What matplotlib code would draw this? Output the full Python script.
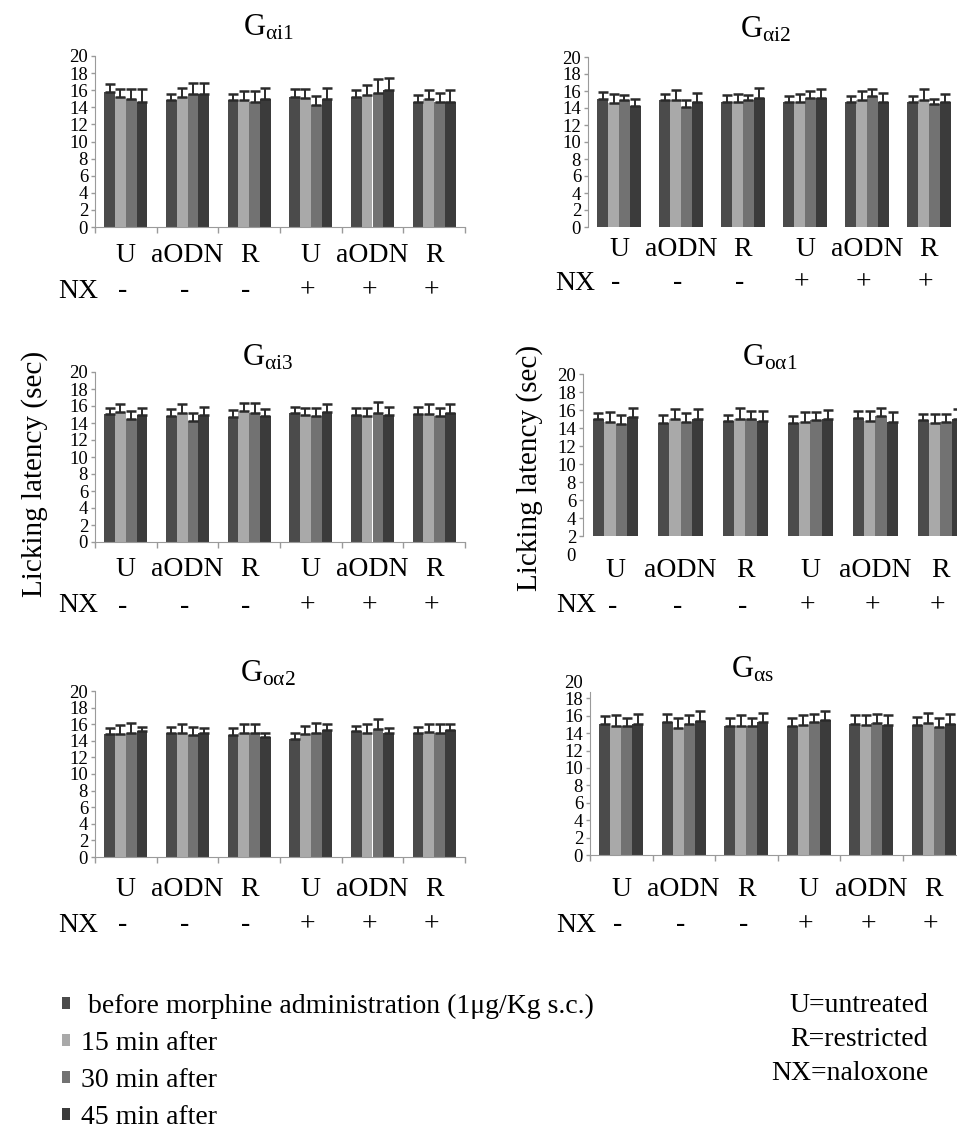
import matplotlib
matplotlib.use("Agg")
import matplotlib.pyplot as plt
import numpy as np

# ---------------- data ----------------
categories = ["U", "aODN", "R", "U", "aODN", "R"]
nx_signs = ["-", "-", "-", "+", "+", "+"]
series_labels = [" before morphine administration (1\u03bcg/Kg s.c.)",
                 "15 min after", "30 min after", "45 min after"]
legend_notes = ["U=untreated", "R=restricted", "NX=naloxone"]
ylabel = "Licking latency (sec)"
yticks = list(range(0, 21, 2))

gai1_mean = [[15.8, 14.8, 14.8, 15.2, 15.2, 14.6],
             [15.2, 15.2, 14.8, 15.1, 15.4, 15.0],
             [15.0, 15.5, 14.6, 14.3, 15.7, 14.6],
             [14.6, 15.5, 15.0, 15.0, 16.0, 14.6]]
gai1_err = [[0.9, 0.7, 0.7, 0.9, 0.8, 0.8],
            [0.9, 1.0, 1.1, 1.0, 1.2, 1.0],
            [1.1, 1.4, 1.3, 1.0, 1.6, 1.1],
            [1.5, 1.4, 1.3, 1.3, 1.4, 1.4]]

gai2_mean = [[15.1, 14.9, 14.7, 14.7, 14.7, 14.7],
             [14.6, 15.0, 14.7, 14.7, 15.0, 15.0],
             [15.0, 14.1, 14.9, 15.2, 15.4, 14.5],
             [14.2, 14.7, 15.2, 15.2, 14.7, 14.7]]
gai2_err = [[0.8, 0.7, 0.8, 0.7, 0.7, 0.7],
            [1.0, 1.1, 0.9, 0.9, 1.0, 1.2],
            [0.5, 0.8, 0.6, 0.8, 0.8, 0.6],
            [0.9, 1.1, 1.1, 1.0, 1.1, 0.9]]

gai3_mean = [[15.1, 14.8, 14.7, 15.2, 15.0, 15.1],
             [15.3, 15.2, 15.4, 14.9, 14.8, 15.1],
             [14.5, 14.2, 15.2, 14.8, 15.2, 14.8],
             [14.9, 15.0, 14.8, 15.3, 15.0, 15.2]]
gai3_err = [[0.7, 0.9, 0.8, 0.7, 0.8, 0.8],
            [0.9, 1.0, 1.0, 0.9, 1.0, 1.1],
            [0.9, 1.0, 1.2, 1.0, 1.3, 1.0],
            [0.9, 0.9, 0.9, 0.9, 0.9, 1.0]]

goa1_mean = [[15.0, 14.6, 14.8, 14.6, 15.1, 14.9],
             [14.7, 15.0, 15.0, 14.7, 14.8, 14.6],
             [14.5, 14.7, 15.0, 14.9, 15.3, 14.7],
             [15.2, 15.0, 14.8, 15.0, 14.7, 15.0]]
goa1_err = [[0.7, 0.8, 0.7, 0.7, 0.8, 0.7],
            [1.1, 1.1, 1.2, 1.1, 1.1, 1.0],
            [1.0, 1.0, 0.9, 0.9, 0.9, 0.9],
            [1.0, 1.1, 1.1, 1.0, 1.1, 1.1]]

goa2_mean = [[14.8, 14.9, 14.7, 14.2, 15.2, 15.0],
             [14.8, 15.0, 15.0, 14.8, 15.0, 15.1],
             [15.0, 14.7, 14.9, 15.0, 15.4, 14.9],
             [15.2, 14.9, 14.4, 15.3, 15.0, 15.3]]
goa2_err = [[0.7, 0.8, 0.9, 0.7, 0.6, 0.7],
            [1.1, 1.0, 1.0, 1.0, 1.0, 0.9],
            [1.1, 1.0, 1.1, 1.1, 1.2, 1.1],
            [0.5, 0.6, 0.5, 0.7, 0.6, 0.7]]

gas_mean = [[15.1, 15.3, 14.8, 14.8, 15.1, 15.0],
            [14.8, 14.6, 14.8, 14.9, 14.9, 15.2],
            [14.8, 15.1, 14.8, 15.3, 15.2, 14.7],
            [15.1, 15.4, 15.3, 15.5, 14.9, 15.1]]
gas_err = [[0.9, 0.9, 0.9, 0.9, 1.0, 0.9],
           [1.3, 1.2, 1.3, 1.2, 1.2, 1.1],
           [1.0, 1.0, 1.0, 0.9, 1.0, 1.0],
           [1.1, 1.1, 1.0, 1.1, 1.2, 1.1]]

# ---------------- style ----------------
colors = ["#4b4b4b", "#a9a9a9", "#727272", "#3b3b3b"]
err_color = "#2a2a2a"
spine_color = "#9a9a9a"

plt.rcParams["font.family"] = ["Liberation Serif", "DejaVu Serif"]
plt.rcParams["mathtext.fontset"] = "custom"
plt.rcParams["mathtext.rm"] = "Liberation Serif"
plt.rcParams["mathtext.it"] = "Liberation Serif:italic"
plt.rcParams["mathtext.bf"] = "Liberation Serif:bold"

W, H = 957, 1129
fig = plt.figure(figsize=(W / 100, H / 100), dpi=100)


def fx(px):
    return px / W


def fy(py):
    return 1 - py / H


# layout per panel (pixel geometry)
panels = [
    dict(mean=gai1_mean, err=gai1_err, title=r"$\mathrm{G}_{\mathrm{\alpha i1}}$",
         x0=95, x1=465, y20=56, y0=227, tcx=268, tby=35, lab=26, nxo=61, nxx=78,
         base=0, stop=20, bottom=True),
    dict(mean=gai2_mean, err=gai2_err, title=r"$\mathrm{G}_{\mathrm{\alpha i2}}$",
         x0=588, x1=960, y20=57, y0=227, tcx=766, tby=38, lab=20, nxo=53, nxx=575,
         base=0, stop=20, bottom=False),
    dict(mean=gai3_mean, err=gai3_err, title=r"$\mathrm{G}_{\mathrm{\alpha i3}}$",
         x0=95, x1=465, y20=372, y0=542, tcx=268, tby=365, lab=25, nxo=61, nxx=78,
         base=0, stop=20, bottom=True),
    dict(mean=goa1_mean, err=goa1_err, title=r"$\mathrm{G}_{\mathrm{o\alpha 1}}$",
         x0=583, x1=973, y20=374, y0=554, tcx=770, tby=366, lab=13, nxo=49, nxx=576,
         base=2, stop=20, bottom=False),
    dict(mean=goa2_mean, err=goa2_err, title=r"$\mathrm{G}_{\mathrm{o\alpha 2}}$",
         x0=95, x1=465, y20=691, y0=857, tcx=268, tby=682, lab=30, nxo=65, nxx=78,
         base=0, stop=20, bottom=True),
    dict(mean=gas_mean, err=gas_err, title=r"$\mathrm{G}_{\mathrm{\alpha s}}$",
         x0=590, x1=965, y20=681, y0=855, tcx=752, tby=678, lab=32, nxo=67, nxx=576,
         base=0, stop=18.7, bottom=True),
]

x = np.arange(1, len(categories) + 1)
bw = 0.175
legend_handles = None

for p in panels:
    ax = fig.add_axes([fx(p["x0"]), fy(p["y0"]), (p["x1"] - p["x0"]) / W,
                       (p["y0"] - p["y20"]) / H])
    handles = []
    for i in range(4):
        m = np.array(p["mean"][i])
        e = np.array(p["err"][i])
        bc = ax.bar(x + (i - 1.5) * bw, m - p["base"], bw, bottom=p["base"],
                    color=colors[i], linewidth=0,
                    yerr=[np.zeros_like(e), e],
                    error_kw=dict(ecolor=err_color, elinewidth=1.4,
                                  capsize=3.4, capthick=1.8), zorder=2)
        handles.append(bc)
    if legend_handles is None:
        legend_handles = handles

    ax.set_xlim(0.5, len(categories) + 0.5)
    ax.set_ylim(0, 20)
    ax.set_yticks(yticks)
    ax.tick_params(axis="y", length=3, width=1, color=spine_color, pad=2,
                   labelsize=13.5)
    for s in ["top", "right"]:
        ax.spines[s].set_visible(False)
    ax.spines["left"].set_color(spine_color)
    ax.spines["left"].set_bounds(p["base"], p["stop"])
    for t, v in zip(ax.yaxis.get_major_ticks(), yticks):
        if v < p["base"] or v > p["stop"]:
            t.tick1line.set_visible(False)

    pad_pt = (p["lab"] - 9.5) * 0.72
    ax.set_xticks(x, categories)
    ax.tick_params(axis="x", which="major", length=0, labelsize=20, pad=pad_pt)
    if p["bottom"]:
        ax.spines["bottom"].set_color(spine_color)
        ax.set_xticks(np.arange(0.5, len(categories) + 1, 1), minor=True)
        ax.tick_params(axis="x", which="minor", length=4, width=1,
                       color=spine_color)
    else:
        ax.spines["bottom"].set_visible(False)

    # NX row
    nxo = p["nxo"] + 3
    for xi, sgn in zip(x, nx_signs):
        ax.annotate(sgn, xy=(xi - 0.05, 0), xycoords=("data", "axes fraction"),
                    xytext=(0, -nxo * 0.72), textcoords="offset points",
                    ha="center", va="center", fontsize=20, annotation_clip=False)
    fig.text(fx(p["nxx"]), fy(p["y0"] + nxo), "NX", ha="center",
             va="center", fontsize=20)

    fig.text(fx(p["tcx"]), fy(p["tby"]), p["title"], ha="center",
             va="baseline", fontsize=22)

# y-axis labels (middle row)
fig.text(fx(35), fy(474), ylabel, rotation=90, ha="center", va="center",
         fontsize=21)
fig.text(fx(530), fy(468), ylabel, rotation=90, ha="center", va="center",
         fontsize=21)

# legend
fig.legend(legend_handles, series_labels, loc="upper left",
           bbox_to_anchor=(fx(62), fy(994)), frameon=False, fontsize=20,
           handlelength=0.3, handleheight=0.3, handletextpad=0.4,
           labelspacing=0.43, borderpad=0, borderaxespad=0)

for k, note in enumerate(legend_notes):
    fig.text(fx(928), fy(1005 + 34 * k), note, ha="right", va="center",
             fontsize=20)

fig.savefig("out.png", dpi=100)
